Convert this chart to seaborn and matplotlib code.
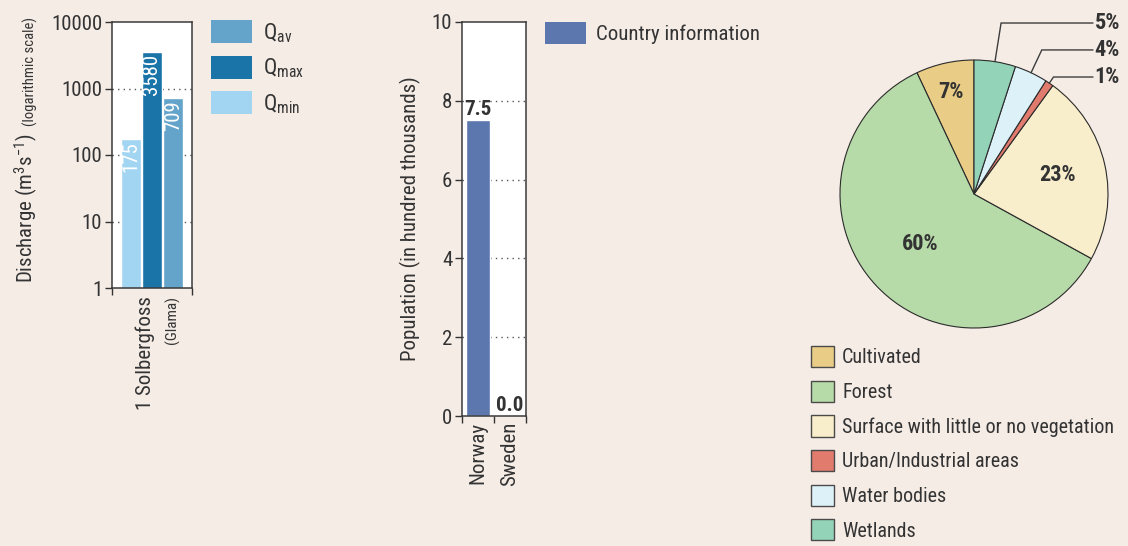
import numpy as np
import pandas as pd
import matplotlib
matplotlib.use("Agg")
import matplotlib.pyplot as plt
from matplotlib import font_manager
from matplotlib.patches import Patch
from matplotlib.ticker import FixedLocator, NullLocator
import seaborn as sns

# ---- data -------------------------------------------------------------
station = "1 Solbergfoss"
river = "(Glama)"
q_names = ["Qmin", "Qmax", "Qav"]            # bar order
q_values = [175, 3580, 709]                  # m3/s
q_legend_order = ["Qav", "Qmax", "Qmin"]
q_ticks = [1, 10, 100, 1000, 10000]

countries = ["Norway", "Sweden"]
population = [7.5, 0.0]                      # hundred thousands
pop_ticks = [0, 2, 4, 6, 8, 10]

land_use = ["Cultivated", "Forest", "Surface with little or no vegetation",
            "Urban/Industrial areas", "Water bodies", "Wetlands"]
land_share = [7, 60, 23, 1, 4, 5]            # percent

# ---- style ------------------------------------------------------------
BG = "#f5ece6"
INK = "#333333"
q_colors = {"Qmin": "#a2d5f2", "Qmax": "#1a74a8", "Qav": "#64a4ca"}
q_tex = {"Qav": r"Q$_{\mathrm{av}}$", "Qmax": r"Q$_{\mathrm{max}}$",
         "Qmin": r"Q$_{\mathrm{min}}$"}
pop_color = "#5b77ae"
land_colors = ["#e9cc85", "#b6dba8", "#f9eecb", "#e07b6d", "#ddf1f8", "#93d4b9"]

sns.set_style("ticks")

# pick the narrowest sans family available
installed = {f.name for f in font_manager.fontManager.ttflist}
condensed = [n for n in ("Roboto Condensed", "Liberation Sans Narrow",
                         "Open Sans Condensed", "Noto Sans Condensed",
                         "Arial Narrow") if n in installed]
if condensed:
    BASE = condensed[0]
    K = 1.0
else:
    BASE = next(n for n in ("Roboto", "Liberation Sans", "Lato",
                            "DejaVu Sans") if n in installed)
    K = 0.84
FONT = [BASE, "DejaVu Sans"]
plt.rcParams["font.family"] = FONT
plt.rcParams["mathtext.fontset"] = "custom"
plt.rcParams["mathtext.rm"] = BASE
plt.rcParams["mathtext.it"] = BASE
plt.rcParams["mathtext.bf"] = BASE + ":bold"
plt.rcParams["text.color"] = INK
plt.rcParams["axes.labelcolor"] = INK
plt.rcParams["xtick.color"] = INK
plt.rcParams["ytick.color"] = INK

FS = 15 * K          # main text size
FS_SMALL = 10.5 * K
FS_LEG = 14 * K
FS_PIE = 16 * K

W, H = 1128, 546
fig = plt.figure(figsize=(W / 100, H / 100), dpi=100, facecolor=BG)


def px_axes(left, top, right, bottom):
    return fig.add_axes([left / W, 1 - bottom / H, (right - left) / W,
                         (bottom - top) / H])


def style_frame(ax):
    ax.set_facecolor("white")
    for s in ax.spines.values():
        s.set_color("#3a3a3a")
        s.set_linewidth(1.1)
    ax.tick_params(axis="y", which="major", length=5, width=1, labelsize=FS,
                   pad=2)
    ax.tick_params(axis="x", which="major", length=0, labelsize=FS, pad=4)
    ax.tick_params(axis="x", which="minor", length=5, width=1)
    ax.set_axisbelow(True)


# ---- panel 1: discharge (log scale) -----------------------------------
ax1 = px_axes(112, 22, 192, 288)
df_q = pd.DataFrame({"station": [station] * len(q_names),
                     "stat": q_names, "value": q_values})
sns.barplot(data=df_q, x="station", y="value", hue="stat", hue_order=q_names,
            palette=q_colors, width=0.8, gap=0.06, saturation=1,
            legend=False, ax=ax1)
ax1.set_yscale("log")
ax1.set_xlim(-0.5, 0.5)
ax1.set_ylim(q_ticks[0], q_ticks[-1])
ax1.yaxis.set_major_locator(FixedLocator(q_ticks))
ax1.yaxis.set_minor_locator(NullLocator())
ax1.set_yticklabels([str(t) for t in q_ticks])
ax1.set_xticks([0])
ax1.set_xticklabels([""])
ax1.set_xticks([-0.5, 0.5], minor=True)
ax1.set_xlabel("")
ax1.set_ylabel("")
style_frame(ax1)
for t in q_ticks[1:-1]:
    ax1.axhline(t, color="#555555", lw=1, ls=(0, (1, 3)), zorder=0.5)

for bar, val in zip(ax1.patches, q_values):
    cx = bar.get_x() + bar.get_width() / 2
    ax1.annotate(f"{val}", (cx, val), xytext=(0, -1.5),
                 textcoords="offset points", rotation=90, ha="center",
                 va="top", color="white", fontsize=FS)

# rotated category label with river name
ax1.annotate(station, (0, 0), xycoords=("data", "axes fraction"),
             xytext=(-5, -6), textcoords="offset points", rotation=90,
             ha="center", va="top", fontsize=FS)
ax1.annotate(river, (0, 0), xycoords=("data", "axes fraction"),
             xytext=(14.5, -6), textcoords="offset points", rotation=90,
             ha="center", va="top", fontsize=FS_SMALL + 0.5)

t_main = fig.text(40 / W, 1 - 283 / H, r"Discharge (m$^3$s$^{-1}$)",
                  rotation=90, ha="right", va="bottom", fontsize=FS)
fig.canvas.draw()
fig.text(38 / W, t_main.get_window_extent().y1 / H + 8 / H,
         "(logarithmic scale)", rotation=90, ha="right", va="bottom",
         fontsize=FS_SMALL)

q_handles = [Patch(facecolor=q_colors[k], edgecolor="none", label=q_tex[k])
             for k in q_legend_order]
fig.legend(handles=q_handles, loc="upper left",
           bbox_to_anchor=(211 / W, 1 - 20 / H), frameon=False,
           fontsize=FS + 1, handlelength=41 * 0.72 / (FS + 1),
           handleheight=27 * 0.72 / (FS + 1), labelspacing=0.5,
           handletextpad=11 * 0.72 / (FS + 1), borderpad=0, borderaxespad=0)

# ---- panel 2: population ---------------------------------------------
ax2 = px_axes(462, 22, 526, 416)
sns.barplot(x=countries, y=population, color=pop_color, saturation=1,
            width=0.72, ax=ax2)
ax2.set_xlim(-0.5, 1.5)
ax2.set_ylim(pop_ticks[0], pop_ticks[-1])
ax2.set_yticks(pop_ticks)
ax2.set_xticks([-0.5, 0.5, 1.5], minor=True)
style_frame(ax2)
ax2.tick_params(axis="x", which="major", labelrotation=90)
for t in pop_ticks[1:-1]:
    ax2.axhline(t, color="#555555", lw=1, ls=(0, (1, 3)), zorder=0.5)
ax2.bar_label(ax2.containers[0], fmt="%.1f", fontweight="bold",
              fontsize=FS, padding=1, color=INK)
ax2.set_ylabel("Population (in hundred thousands)", fontsize=FS, labelpad=8)

fig.legend(handles=[Patch(facecolor=pop_color, edgecolor="none",
                          label="Country information")],
           loc="upper left", bbox_to_anchor=(545 / W, 1 - 22 / H),
           frameon=False, fontsize=FS, handlelength=41 * 0.72 / FS,
           handleheight=26 * 0.72 / FS, handletextpad=10 * 0.72 / FS,
           borderpad=0, borderaxespad=0)

# ---- panel 3: land use pie --------------------------------------------
CX, CY, R = 974, 194, 134
S = 1.4
ax3 = fig.add_axes([(CX - R * S) / W, 1 - (CY + R * S) / H,
                    2 * R * S / W, 2 * R * S / H])
wedges, _ = ax3.pie(land_share, colors=land_colors, startangle=90,
                    counterclock=True, radius=1,
                    wedgeprops=dict(edgecolor="#2b2b2b", linewidth=0.8))
ax3.set_xlim(-S, S)
ax3.set_ylim(-S, S)
ax3.set_aspect("equal")
ax3.axis("off")

inner_r = {"Cultivated": 0.78, "Forest": 0.55,
           "Surface with little or no vegetation": 0.64}
outer_y = {"Wetlands": 1.276, "Water bodies": 1.075,
           "Urban/Industrial areas": 0.873}
for w, name, share in zip(wedges, land_use, land_share):
    mid = np.deg2rad((w.theta1 + w.theta2) / 2)
    if name in inner_r:
        r = inner_r[name]
        ax3.text(r * np.cos(mid), r * np.sin(mid), f"{share}%", ha="center",
                 va="center", fontsize=FS_PIE, fontweight="bold")
    else:
        ly = outer_y[name]
        x0, y0 = np.cos(mid), np.sin(mid)
        xe = ly / np.tan(mid)
        ax3.plot([x0, xe, 0.888], [y0, ly, ly], color="#3d3d3d", lw=1,
                 solid_joinstyle="miter", clip_on=False)
        ax3.text(0.9, ly, f"{share}%", ha="left", va="center",
                 fontsize=FS_PIE, fontweight="bold")

land_handles = [Patch(facecolor=c, edgecolor="#4a4a4a", linewidth=1,
                      label=n) for c, n in zip(land_colors, land_use)]
fig.legend(handles=land_handles, loc="upper left",
           bbox_to_anchor=(811 / W, 1 - 346 / H), frameon=False,
           fontsize=FS_LEG + 0.5, handlelength=23 * 0.72 / (FS_LEG + 0.5),
           handleheight=25 * 0.72 / (FS_LEG + 0.5), labelspacing=0.66,
           handletextpad=8 * 0.72 / (FS_LEG + 0.5), borderpad=0,
           borderaxespad=0)

fig.savefig("out.png", dpi=100, facecolor=BG)
